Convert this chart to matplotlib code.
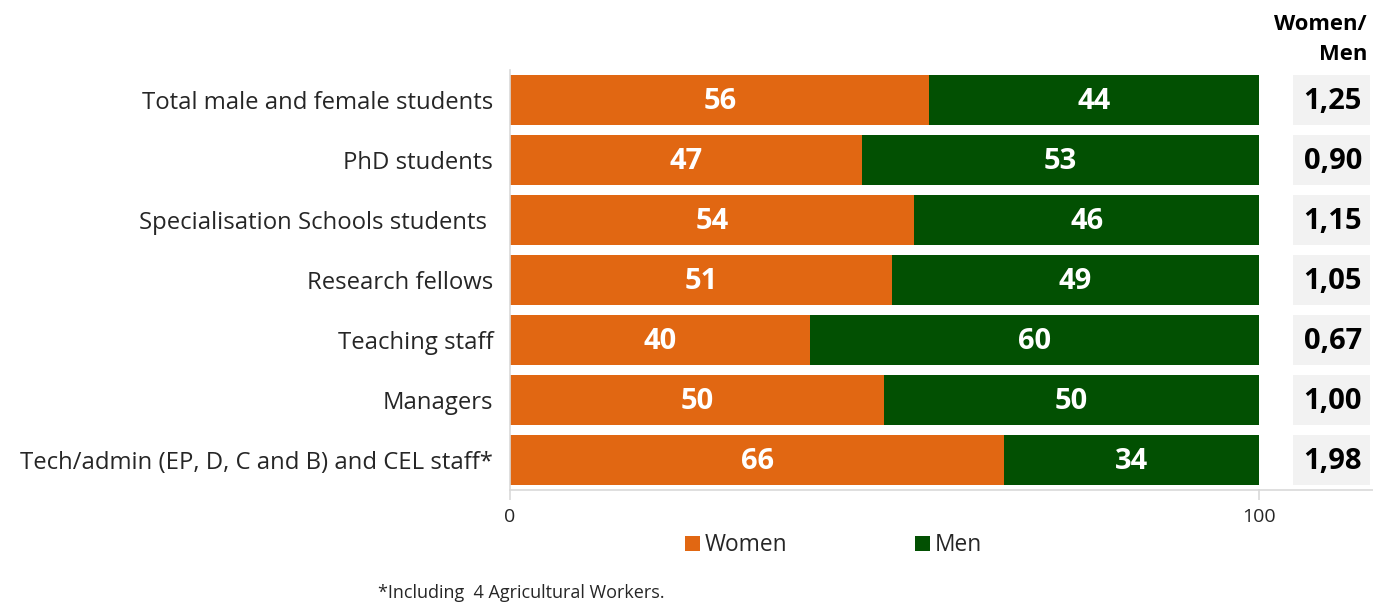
import matplotlib
matplotlib.use("Agg")
import matplotlib.pyplot as plt
from matplotlib.patches import Rectangle
from matplotlib.transforms import blended_transform_factory
from matplotlib.lines import Line2D

plt.rcParams['font.family'] = ['Open Sans', 'DejaVu Sans']

categories = [
    "Total male and female students",
    "PhD students",
    "Specialisation Schools students ",
    "Research fellows",
    "Teaching staff",
    "Managers",
    "Tech/admin (EP, D, C and B) and CEL staff*",
]
women = [56, 47, 54, 51, 40, 50, 66]
men = [44, 53, 46, 49, 60, 50, 34]
ratio_labels = ["1,25", "0,90", "1,15", "1,05", "0,67", "1,00", "1,98"]
series_names = ["Women", "Men"]
x_ticks = [0, 100]

ORANGE = "#E16712"
GREEN = "#025002"
AXIS_GRAY = "#d9d9d9"
TEXT = "#262626"

W, H = 1373, 605
fig = plt.figure(figsize=(W / 100, H / 100), dpi=100)
ax = fig.add_axes([510 / W, (H - 490) / H, (1259 - 510) / W, 420 / H])

y = list(range(len(categories)))
ax.barh(y, women, height=0.835, color=ORANGE, edgecolor="none")
ax.barh(y, men, left=women, height=0.835, color=GREEN, edgecolor="none")

for i, (w, m) in enumerate(zip(women, men)):
    ax.text(w / 2, i + 0.02, str(w), ha="center", va="center", color="white",
            fontsize=21, fontweight="bold")
    ax.text(w + m / 2, i + 0.02, str(m), ha="center", va="center", color="white",
            fontsize=21, fontweight="bold")

ax.set_xlim(0, 100)
ax.set_ylim(len(categories) - 0.5, -0.5)
ax.set_yticks(y)
ax.set_yticklabels(categories, fontsize=17.2, color=TEXT)
ax.tick_params(axis="y", length=0, pad=12)
ax.set_xticks(x_ticks)
ax.set_xticklabels([str(t) for t in x_ticks], fontsize=14, color=TEXT)
ax.tick_params(axis="x", length=7, color=AXIS_GRAY, pad=6, width=1.2)

for s in ["top", "right"]:
    ax.spines[s].set_visible(False)
for s in ["left", "bottom"]:
    ax.spines[s].set_color(AXIS_GRAY)
    ax.spines[s].set_linewidth(1.2)

# baseline extends under the ratio column
fig.add_artist(Line2D([1259 / W, 1.0], [(H - 490) / H] * 2, color=AXIS_GRAY,
                      lw=1.2, transform=fig.transFigure))

# Women/Men ratio column
tr = blended_transform_factory(fig.transFigure, ax.transData)
bx0, bx1 = 1293 / W, 1370 / W
for i, r in enumerate(ratio_labels):
    ax.add_patch(Rectangle((bx0, i - 0.41), bx1 - bx0, 0.82, transform=tr,
                           facecolor="#f2f2f2", edgecolor="none", clip_on=False))
    ax.text(1362 / W, i + 0.02, r, transform=tr, ha="right", va="center",
            fontsize=21, fontweight="bold", color="black")

fig.text(1367 / W, (H - 25) / H, "Women/", ha="right", va="center",
         fontsize=15.8, fontweight="bold", color="black")
fig.text(1367 / W, (H - 55) / H, "Men", ha="right", va="center",
         fontsize=15.8, fontweight="bold", color="black")

# legend
for name, col, px in zip(series_names, [ORANGE, GREEN], [685, 915]):
    fig.add_artist(Rectangle((px / W, (H - 551) / H), 15 / W, 15 / H,
                             transform=fig.transFigure, facecolor=col,
                             edgecolor="none"))
    fig.text((px + 20) / W, (H - 545) / H, name, ha="left", va="center",
             fontsize=16.4, color=TEXT)

fig.text(378 / W, (H - 593) / H, "*Including  4 Agricultural Workers.",
         ha="left", va="center", fontsize=13, color=TEXT)

fig.savefig("out.png", dpi=100, facecolor="white")
